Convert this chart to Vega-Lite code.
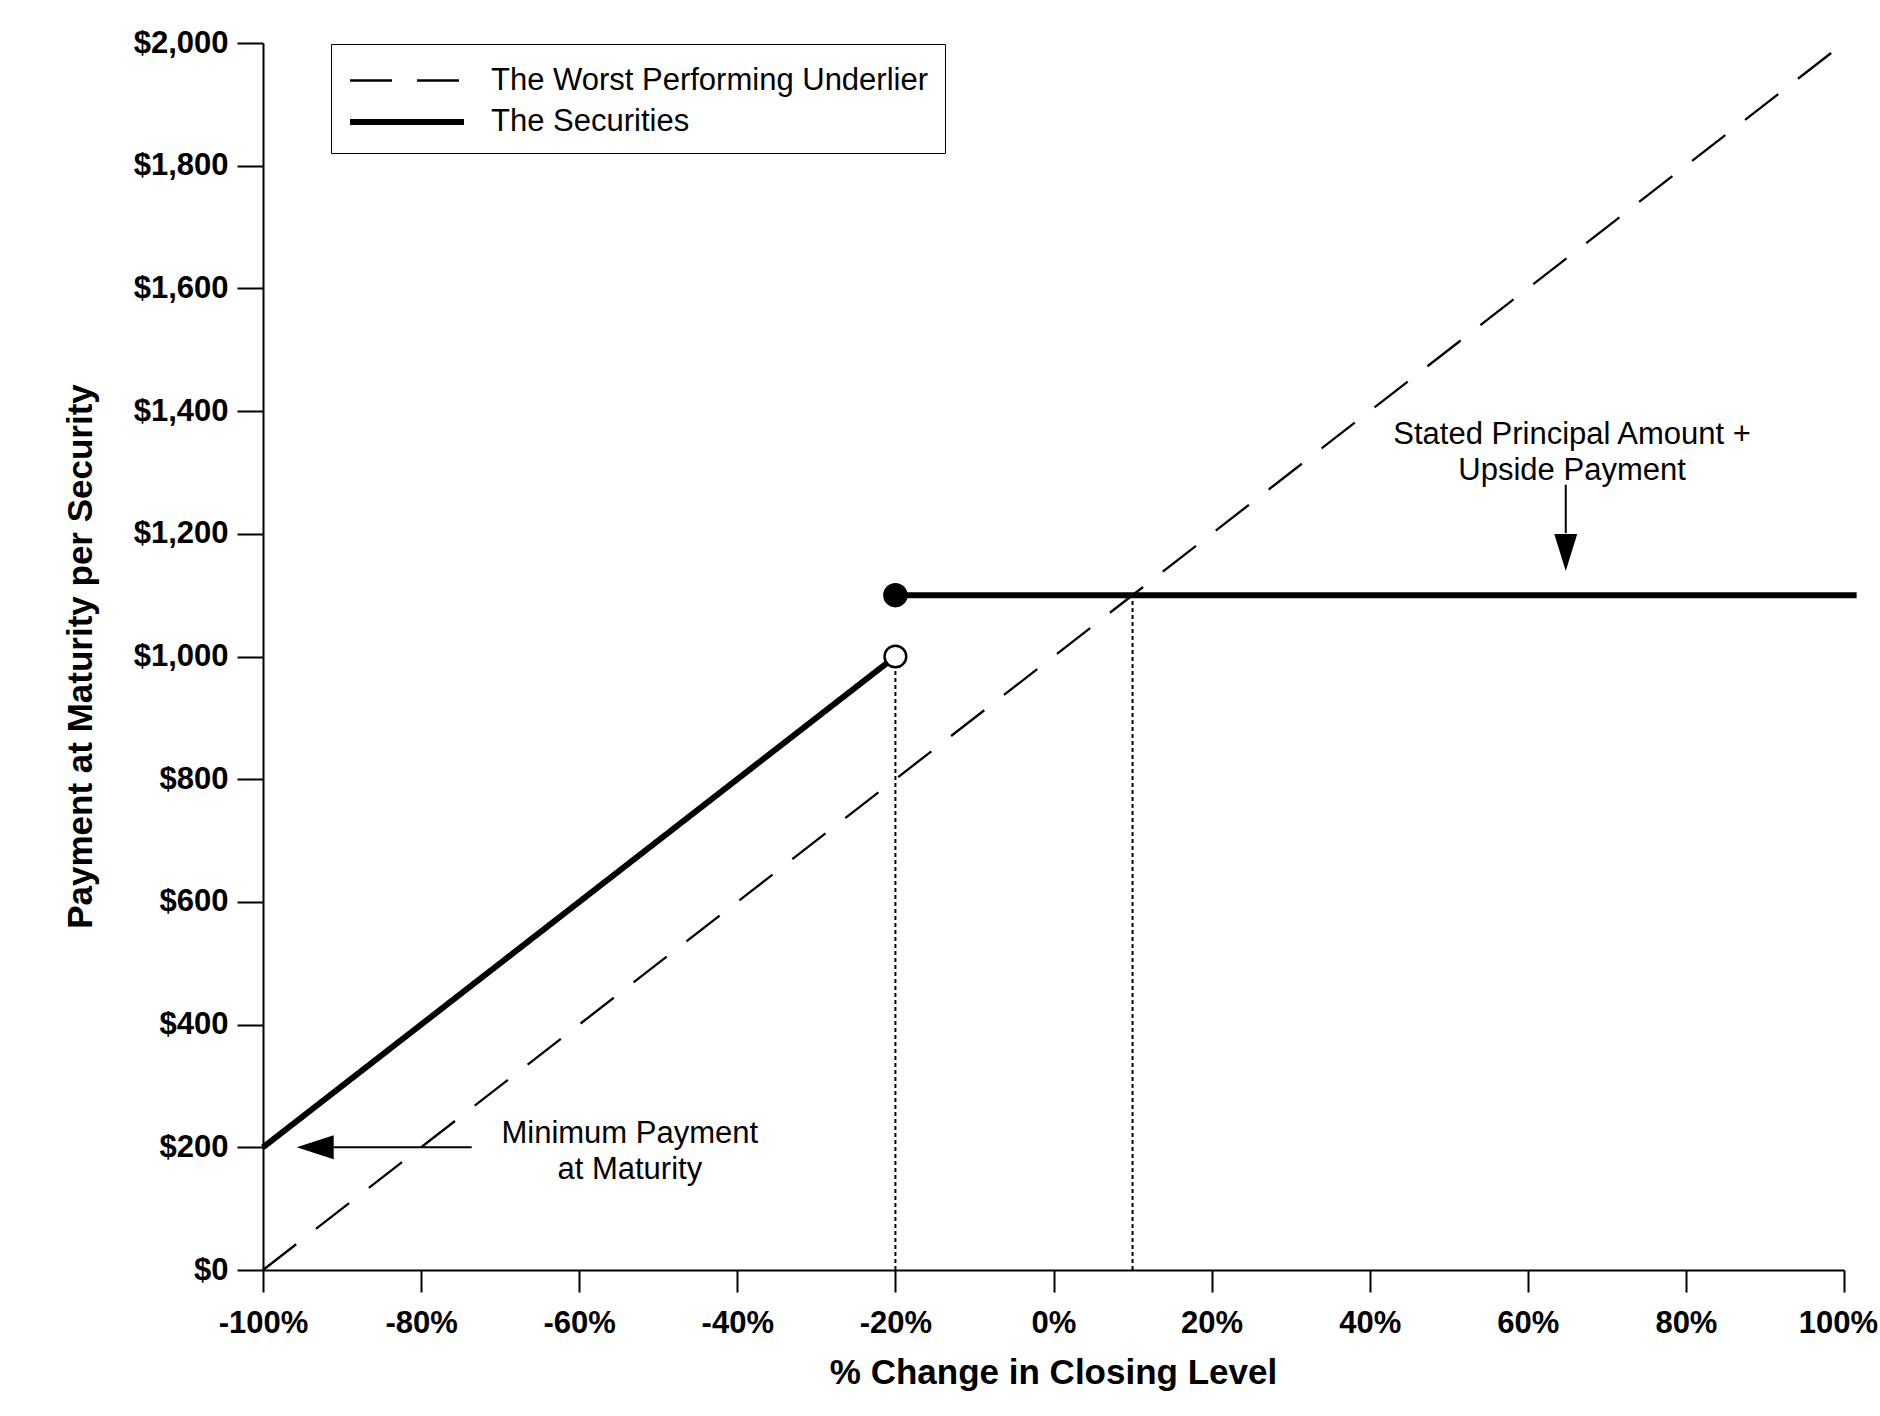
{
  "$schema": "https://vega.github.io/schema/vega-lite/v6.json",
  "autosize": {"type": "none"},
  "padding": {"left": 263, "top": 43, "right": 36, "bottom": 146},
  "width": 1581,
  "height": 1227,
  "background": "white",
  "config": {
    "view": {"stroke": null},
    "font": "Liberation Sans",
    "legend": {
      "orient": "none",
      "legendX": 68,
      "legendY": 1,
      "title": null,
      "direction": "vertical",
      "labelFont": "Liberation Sans",
      "labelFontSize": 31,
      "labelColor": "black",
      "labelLimit": 0,
      "labelOffset": 100,
      "symbolType": "M-1,0L5,0",
      "symbolSize": 1444,
      "symbolStrokeColor": "black",
      "padding": 16,
      "rowPadding": 4,
      "strokeColor": "black",
      "fillColor": "white"
    }
  },
  "datasets": {
    "lines": [
      {"series": "The Worst Performing Underlier", "seg": "u", "pct": -100, "pay": 0},
      {"series": "The Worst Performing Underlier", "seg": "u", "pct": 100, "pay": 2000},
      {"series": "The Securities", "seg": "a", "pct": -100, "pay": 200},
      {"series": "The Securities", "seg": "a", "pct": -20, "pay": 1000},
      {"series": "The Securities", "seg": "b", "pct": -20, "pay": 1100},
      {"series": "The Securities", "seg": "b", "pct": 101.6, "pay": 1100}
    ],
    "guides": [
      {"pct": -20, "pay": 1000},
      {"pct": 10, "pay": 1100}
    ],
    "dots": [
      {"kind": "closed", "pct": -20, "pay": 1100},
      {"kind": "open", "pct": -20, "pay": 1000}
    ],
    "arrows": [
      {"pct": -73.6, "pay": 200, "pct2": -91.1, "pay2": 200},
      {"pct": 64.8, "pay": 1280, "pct2": 64.8, "pay2": 1201}
    ],
    "heads": [
      {"dir": "left", "pct": -93.4, "pay": 200},
      {"dir": "down", "pct": 64.8, "pay": 1169.5}
    ],
    "notes": [
      {"pct": -53.6, "pay": 221.7, "note": "Minimum Payment"},
      {"pct": -53.6, "pay": 163, "note": "at Maturity"},
      {"pct": 65.6, "pay": 1361, "note": "Stated Principal Amount +"},
      {"pct": 65.6, "pay": 1302, "note": "Upside Payment"}
    ]
  },
  "encoding": {
    "x": {
      "field": "pct",
      "type": "quantitative",
      "scale": {"domain": [-100, 100], "nice": false, "zero": false},
      "axis": {
        "title": "% Change in Closing Level",
        "titleFont": "Liberation Sans",
        "titleFontSize": 35,
        "titleFontWeight": "bold",
        "titleColor": "black",
        "titleX": 790,
        "titleY": 102,
        "titleBaseline": "middle",
        "values": [-100, -80, -60, -40, -20, 0, 20, 40, 60, 80, 100],
        "labelExpr": "datum.value + '%'",
        "labelFont": "Liberation Sans",
        "labelFontSize": 31,
        "labelFontWeight": "bold",
        "labelColor": "black",
        "labelPadding": 16,
        "labelOffset": {"condition": {"test": "datum.value === 100", "value": -6}, "value": 0},
        "labelFlush": false,
        "labelOverlap": false,
        "tickSize": 22,
        "tickWidth": 2,
        "tickColor": "black",
        "domainWidth": 2,
        "domainColor": "black",
        "grid": false
      }
    },
    "y": {
      "field": "pay",
      "type": "quantitative",
      "scale": {"domain": [0, 2000], "nice": false},
      "axis": {
        "title": "Payment at Maturity per Security",
        "titleFont": "Liberation Sans",
        "titleFontSize": 35,
        "titleFontWeight": "bold",
        "titleColor": "black",
        "titleX": -183,
        "titleY": 613,
        "titleBaseline": "middle",
        "values": [0, 200, 400, 600, 800, 1000, 1200, 1400, 1600, 1800, 2000],
        "format": "$,.0f",
        "labelFont": "Liberation Sans",
        "labelFontSize": 31,
        "labelFontWeight": "bold",
        "labelColor": "black",
        "labelPadding": 9,
        "labelFlush": false,
        "labelOverlap": false,
        "tickSize": 26,
        "tickWidth": 2,
        "tickColor": "black",
        "domainWidth": 2,
        "domainColor": "black",
        "grid": false
      }
    }
  },
  "layer": [
    {
      "data": {"name": "guides"},
      "mark": {"type": "rule", "color": "black", "strokeWidth": 2, "strokeDash": [4, 3]},
      "encoding": {"y": {"datum": 0}, "y2": {"field": "pay"}}
    },
    {
      "data": {"name": "lines"},
      "mark": {"type": "line", "color": "black", "strokeCap": "butt"},
      "encoding": {
        "detail": {"field": "seg"},
        "strokeDash": {
          "field": "series",
          "type": "nominal",
          "scale": {
            "domain": ["The Worst Performing Underlier", "The Securities"],
            "range": [[42, 25], [1, 0]]
          }
        },
        "strokeWidth": {
          "field": "series",
          "type": "nominal",
          "scale": {
            "domain": ["The Worst Performing Underlier", "The Securities"],
            "range": [2.3, 6]
          }
        }
      }
    },
    {
      "data": {"name": "dots"},
      "transform": [{"filter": "datum.kind === 'closed'"}],
      "mark": {"type": "point", "shape": "circle", "filled": true, "fill": "black", "opacity": 1, "size": 600}
    },
    {
      "data": {"name": "dots"},
      "transform": [{"filter": "datum.kind === 'open'"}],
      "mark": {"type": "point", "shape": "circle", "filled": true, "fill": "white", "stroke": "black", "strokeWidth": 2.5, "opacity": 1, "size": 470}
    },
    {
      "data": {"name": "arrows"},
      "mark": {"type": "rule", "color": "black", "strokeWidth": 2},
      "encoding": {"x2": {"field": "pct2"}, "y2": {"field": "pay2"}}
    },
    {
      "data": {"name": "heads"},
      "mark": {"type": "point", "filled": true, "fill": "black", "opacity": 1, "size": 1369},
      "encoding": {
        "shape": {
          "field": "dir",
          "type": "nominal",
          "scale": {
            "domain": ["left", "down"],
            "range": ["M-1,0L1,-0.65L1,0.65Z", "M-0.62,-1L0.62,-1L0,1Z"]
          },
          "legend": null
        }
      }
    },
    {
      "data": {"name": "notes"},
      "mark": {"type": "text", "font": "Liberation Sans", "fontSize": 31, "color": "black", "align": "center", "baseline": "middle"},
      "encoding": {"text": {"field": "note"}}
    }
  ]
}
